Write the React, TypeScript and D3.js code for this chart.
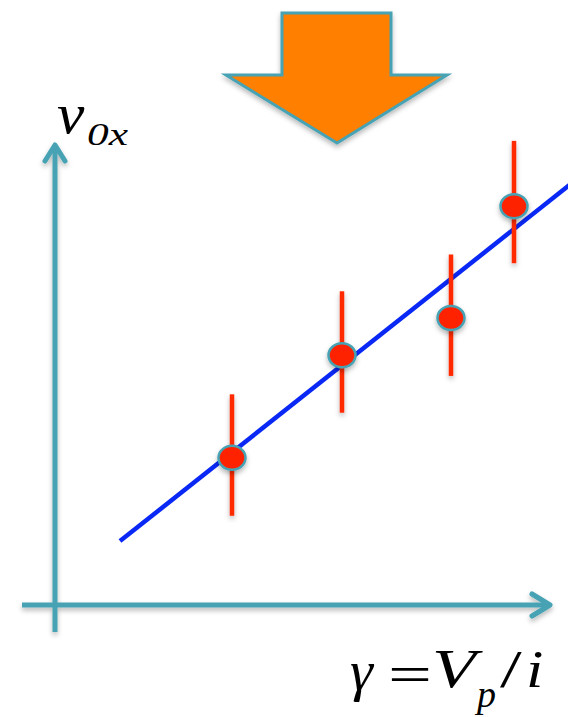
import React from "react";
import * as d3 from "d3";

// Measured points: gamma (x) and v0x (y), in arbitrary units
const gammaValues = [35.4, 57.4, 79.2, 91.8];
const v0xValues = [32.0, 54.3, 62.4, 86.7];
const v0xErrors = [13.2, 13.2, 13.2, 13.3];
const errorCentres = [32.6, 55.0, 63.0, 87.6];

// Linear fit v0x = a + b * gamma, drawn over this gamma span
const fitIntercept = 2.7;
const fitSlope = 0.861;
const fitSpan = [13, 103];

const W = 568;
const H = 717;
const TEAL = "#46a2b4";
const SERIF = "Liberation Serif";

// horizontal stretch about a glyph's left edge
const stretch = (x: number, k: number) => `translate(${x},0) scale(${k},1) translate(${-x},0)`;

export default function App() {
  const x = d3.scaleLinear().domain([0, 100]).range([55, 555]);
  const y = d3.scaleLinear().domain([0, 100]).range([605, 145]);

  const fitLine = d3
    .line<number>()
    .x((g) => x(g))
    .y((g) => y(fitIntercept + fitSlope * g))(fitSpan);

  const x0 = x(0);
  const y0 = y(0);

  // Big down arrow at the top
  const arrow = [
    [282, 13],
    [391, 13],
    [391, 75],
    [447, 75],
    [337, 143],
    [226, 75],
    [282, 75],
  ]
    .map((p) => p.join(","))
    .join(" ");

  const italic = { fontFamily: SERIF, fontStyle: "italic" as const };
  const upright = { fontFamily: SERIF };

  return (
    <svg
      width={W}
      height={H}
      viewBox={`0 0 ${W} ${H}`}
      style={{ position: "absolute", left: 0, top: 0, background: "#fff" }}
    >
      <defs>
        <filter id="shadow" x="-20%" y="-20%" width="140%" height="140%">
          <feDropShadow dx="0" dy="3" stdDeviation="2.5" floodColor="#000" floodOpacity="0.28" />
        </filter>
      </defs>

      <polygon
        points={arrow}
        fill="#ff7f00"
        stroke={TEAL}
        strokeWidth={3}
        strokeLinejoin="miter"
        filter="url(#shadow)"
      />

      {/* axes */}
      <g filter="url(#shadow)" stroke={TEAL} strokeWidth={5} fill="none" strokeLinecap="round">
        <line x1={x0} y1={632} x2={x0} y2={y(100) + 2} strokeLinecap="butt" />
        <polyline points={`${x0 - 10},${y(100) + 16} ${x0},${y(100)} ${x0 + 10},${y(100) + 16}`} strokeLinejoin="round" />
        <line x1={22} y1={y0} x2={x(99)} y2={y0} strokeLinecap="butt" />
        <polyline points={`${x(99) - 18},${y0 - 11} ${x(99)},${y0} ${x(99) - 18},${y0 + 11}`} strokeLinejoin="round" />
      </g>

      {/* fit line */}
      <path d={fitLine ?? ""} stroke="#0a28f5" strokeWidth={4.5} fill="none" />

      {/* error bars */}
      <g stroke="#ff2a00" strokeWidth={4.5} filter="url(#shadow)">
        {gammaValues.map((g, i) => (
          <line
            key={i}
            x1={x(g)}
            x2={x(g)}
            y1={y(errorCentres[i] - v0xErrors[i])}
            y2={y(errorCentres[i] + v0xErrors[i])}
          />
        ))}
      </g>

      {/* data points */}
      <g filter="url(#shadow)">
        {gammaValues.map((g, i) => (
          <ellipse
            key={i}
            cx={x(g)}
            cy={y(v0xValues[i])}
            rx={13.5}
            ry={12}
            fill="#ff2200"
            stroke={TEAL}
            strokeWidth={2.5}
          />
        ))}
      </g>

      {/* y label: v_0x */}
      <g fill="#000">
        <text x={57} y={133} fontSize={56} style={italic} transform={stretch(57, 1.1)}>
          v
        </text>
        <text x={87} y={145} fontSize={31} style={italic} transform={stretch(87, 1.4)}>
          0x
        </text>
      </g>

      {/* x label: gamma = V_p / i */}
      <g fill="#000">
        <text x={350} y={690} fontSize={58} style={italic}>γ</text>
        <text x={388} y={692} fontSize={52} style={upright} transform={stretch(388, 1.5)}>=</text>
        <text x={432} y={687} fontSize={54} style={italic} transform={stretch(432, 1.33)}>V</text>
        <text x={477} y={707} fontSize={38} style={italic}>p</text>
        <text x={500} y={687} fontSize={52} style={upright} transform={stretch(500, 1.5)}>/</text>
        <text x={526} y={687} fontSize={52} style={italic} transform={stretch(526, 1.2)}>i</text>
      </g>
    </svg>
  );
}
